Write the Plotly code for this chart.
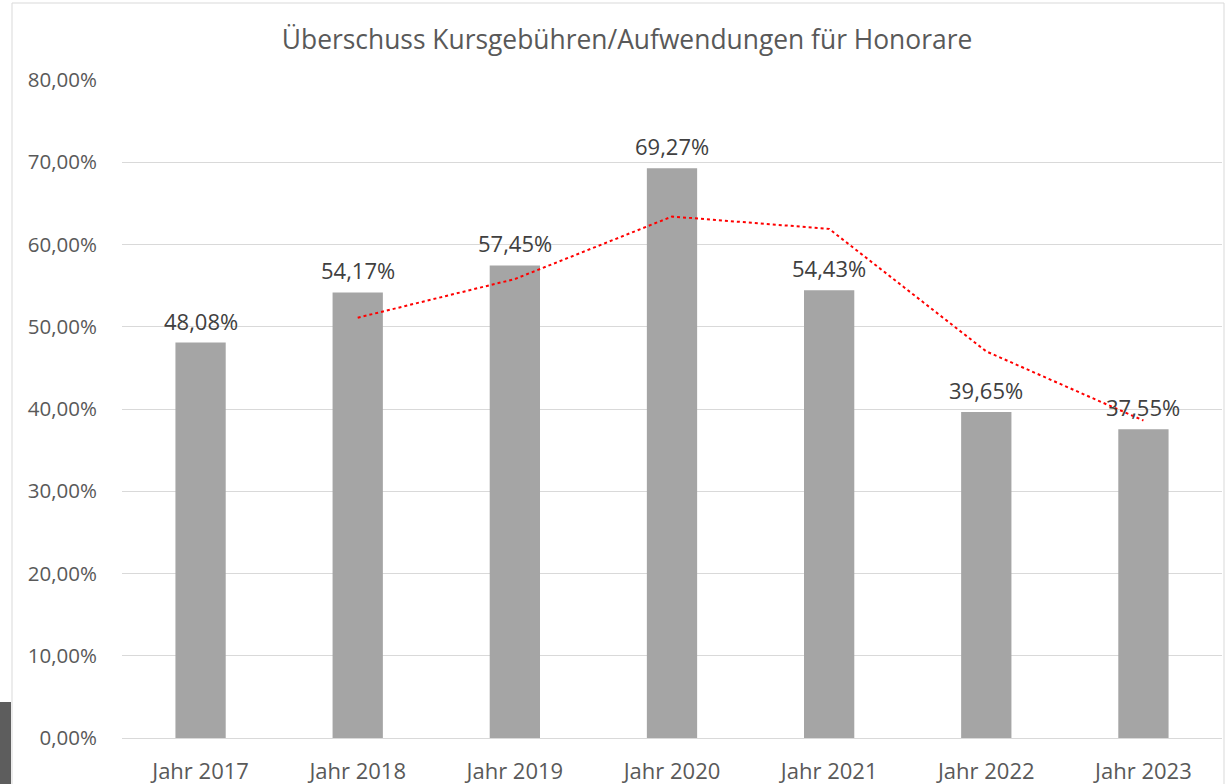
import plotly.graph_objects as go

categories = ["Jahr 2017", "Jahr 2018", "Jahr 2019", "Jahr 2020", "Jahr 2021", "Jahr 2022", "Jahr 2023"]
values = [48.08, 54.17, 57.45, 69.27, 54.43, 39.65, 37.55]
trend_categories = ["Jahr 2018", "Jahr 2019", "Jahr 2020", "Jahr 2021", "Jahr 2022", "Jahr 2023"]
trend_values = [51.1, 55.8, 63.4, 61.9, 47.0, 38.6]
tick_vals = [0, 10, 20, 30, 40, 50, 60, 70, 80]
tick_text = ["0,00%", "10,00%", "20,00%", "30,00%", "40,00%", "50,00%", "60,00%", "70,00%", "80,00%"]

W, H = 1225, 784
L, R, T, B = 122, 3, 80, 46
pw, ph = W - L - R, H - T - B

def px(x):
    return (x - L) / pw

def py(y):
    return (H - B - y) / ph

fig = go.Figure()
fig.add_trace(go.Bar(
    x=categories, y=values,
    marker=dict(color="#a5a5a5", line=dict(width=0)),
    showlegend=False,
    hoverinfo="skip",
))
fig.add_trace(go.Scatter(
    x=trend_categories, y=trend_values,
    mode="lines",
    line=dict(color="#ff0000", width=2, dash="dot"),
    showlegend=False,
    hoverinfo="skip",
))

for c, v in zip(categories, values):
    fig.add_annotation(
        x=c, y=v, xref="x", yref="y",
        text=f"{v:.2f}%".replace(".", ","),
        showarrow=False, yanchor="bottom", yshift=5,
        font=dict(size=22, color="#404040", family="Open Sans"),
    )

fig.update_layout(
    width=W, height=H,
    margin=dict(l=L, r=R, t=T, b=B, autoexpand=False),
    paper_bgcolor="white", plot_bgcolor="white",
    bargap=0.68,
    font=dict(family="Open Sans", color="#595959", size=18),
    title=dict(text="Überschuss Kursgebühren/Aufwendungen für Honorare",
               x=627 / W, xanchor="center", y=1 - 40 / H, yanchor="middle",
               font=dict(size=26.4, color="#595959", family="Open Sans")),
    xaxis=dict(showgrid=False, showline=True, linecolor="#d9d9d9", linewidth=1,
               ticks="", tickfont=dict(size=22, color="#595959"),
               ticklabelstandoff=14, automargin=False),
    yaxis=dict(range=[0, 80], tickvals=tick_vals, ticktext=tick_text,
               showgrid=True, gridcolor="#d9d9d9", gridwidth=1, zeroline=False,
               showline=False, ticks="", tickfont=dict(size=20.5, color="#595959"),
               ticklabelstandoff=24, automargin=False),
    shapes=[
        dict(type="rect", xref="paper", yref="paper",
             x0=px(12), x1=px(1224), y0=py(3), y1=py(790),
             line=dict(color="#d9d9d9", width=1), fillcolor="rgba(0,0,0,0)", layer="below"),
        dict(type="rect", xref="paper", yref="paper",
             x0=px(0), x1=px(11), y0=py(702), y1=py(790),
             line=dict(width=0), fillcolor="#5d5d5d"),
    ],
)

fig.write_html("out.html", config={"displayModeBar": False},
               post_script="document.body.style.margin='0px';document.body.style.overflow='hidden';")
